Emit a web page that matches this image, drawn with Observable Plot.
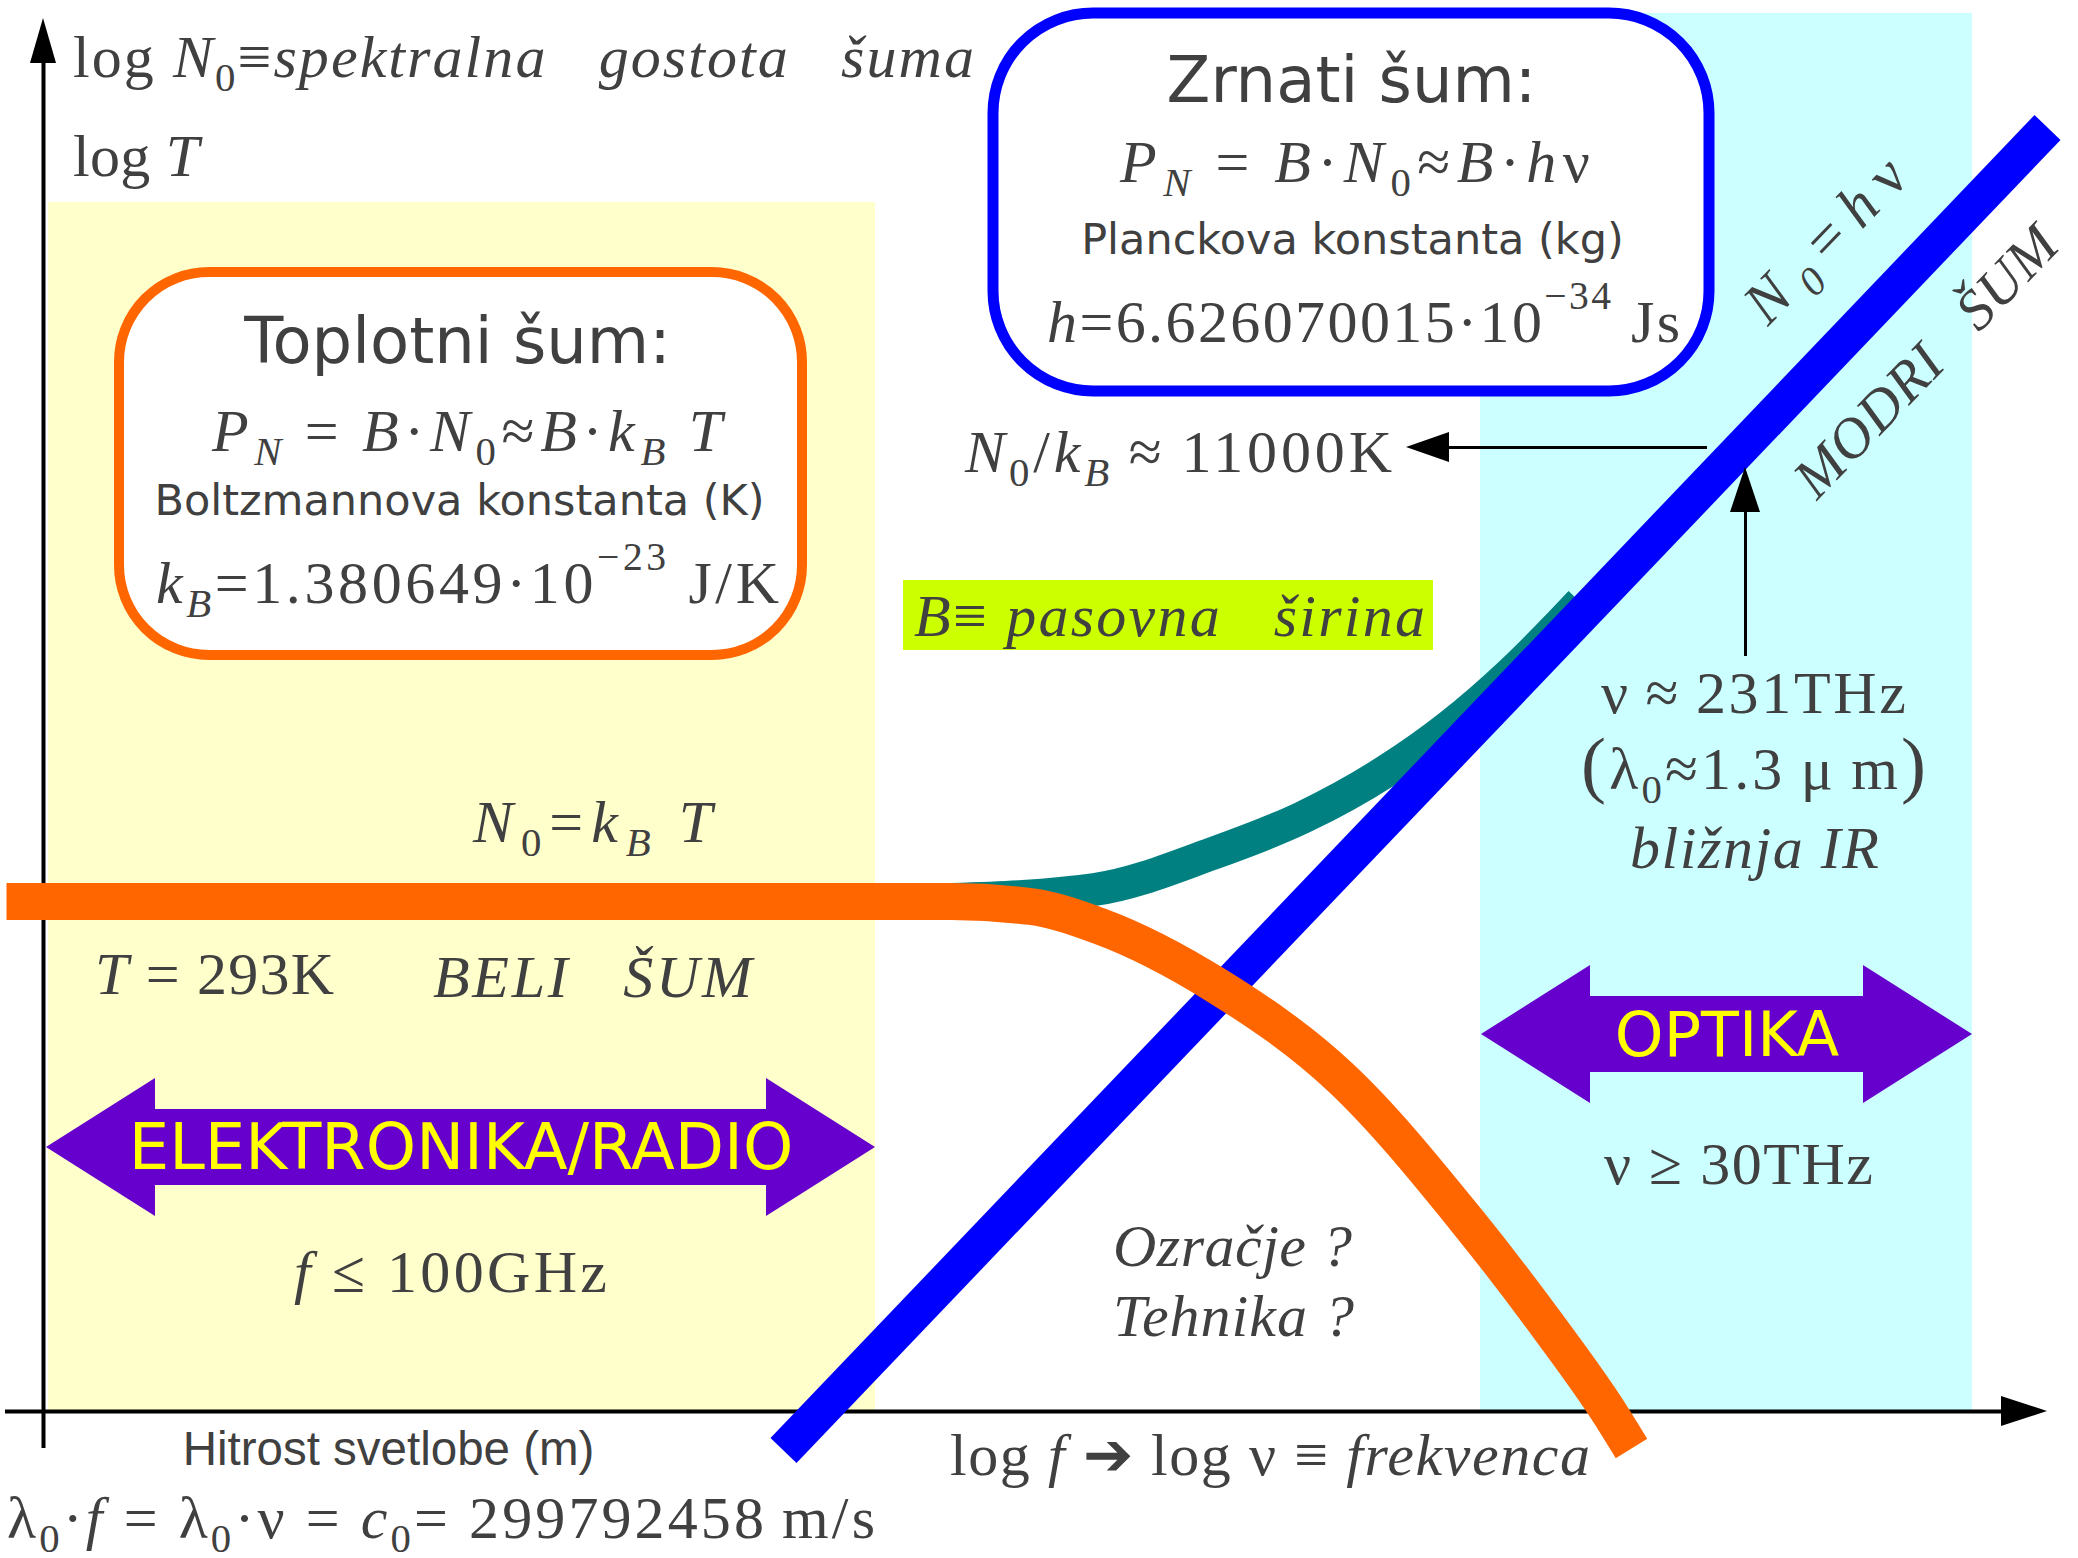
<!DOCTYPE html>
<html>
<head>
<meta charset="utf-8">
<script src="https://cdn.jsdelivr.net/npm/d3@7"></script>
<script src="https://cdn.jsdelivr.net/npm/@observablehq/plot@0.6"></script>
<style>
  html, body { margin: 0; padding: 0; background: #ffffff; overflow: hidden; }
</style>
</head>
<body>
<div id="chart"></div>
<script>
// Schematic noise diagram: x = log ν (frequency), y = log N0 (spectral noise density).
// Both axes are in arbitrary diagram units with the origin at the axes' crossing.
const xDomain = [-0.43, 20.35];
const yDomain = [-1.47, 14.11];

// Shaded frequency ranges (radio/electronics and optics)
const rangeNames = ["elektronika", "optika"];
const rangeFrom = [0.05, 14.37];
const rangeTo = [8.32, 19.29];
const rangeTop = [12.09, 13.98];

// Double arrows naming the ranges
const bandLabels = ["ELEKTRONIKA/RADIO", "OPTIKA"];
const bandFrom = [0.03, 14.38];
const bandTo = [8.32, 19.29];
const bandLevel = [2.64, 3.77];

// Thermal noise N0 = kB·T: white at low frequency, falling off at high frequency
const thermalX = [-0.37, 7.00, 9.08, 9.87, 10.57, 11.73, 12.97, 14.24, 15.07, 15.65, 15.88];
const thermalY = [5.10, 5.10, 5.10, 5.05, 4.85, 4.26, 3.34, 1.90, 0.82, 0.00, -0.37];

// Total noise branch rising from the white level towards the quantum limit
const totalX = [9.08, 10.51, 11.69, 12.59, 13.42, 14.07, 14.67, 15.17, 15.37];
const totalY = [5.12, 5.22, 5.58, 5.94, 6.40, 6.86, 7.38, 7.88, 8.09];

// Quantum (shot) noise N0 = hν — blue noise
const quantumX = [7.40, 20.04];
const quantumY = [-0.39, 12.84];

// Point on the quantum line: ν ≈ 231 THz, N0/kB ≈ 11000 K
const markX = 17.02;
const markY = 9.64;

// Rounded info boxes
const boxNames = ["toplotni", "zrnati"];
const boxX1 = [0.76, 9.50];
const boxX2 = [7.59, 16.66];
const boxY1 = [7.56, 10.20];
const boxY2 = [11.39, 13.98];

// Highlighted bandwidth definition
const bwX = [8.60, 13.90];
const bwY = [7.61, 8.31];

const ink = "#404040";
const serif = "'Liberation Serif', 'Times New Roman', serif";
const sans = "'DejaVu Sans', 'Noto Sans', sans-serif";
const thin = "\u2009";

const ranges = rangeNames.map((name, i) => ({name, from: rangeFrom[i], to: rangeTo[i], top: rangeTop[i]}));
const boxes = boxNames.map((name, i) => ({name, x1: boxX1[i], x2: boxX2[i], y1: boxY1[i], y2: boxY2[i]}));
const thermal = thermalX.map((x, i) => ({x, y: thermalY[i]}));
const total = totalX.map((x, i) => ({x, y: totalY[i]}));
const quantum = quantumX.map((x, i) => ({x, y: quantumY[i]}));

// Polygons for the wide double arrows
const headLen = 1.09, headHalf = 0.69, shaftHalf = 0.38;
const bandShapes = bandLabels.flatMap((label, i) => {
  const a = bandFrom[i], b = bandTo[i], c = bandLevel[i];
  return [
    {label, x: a, lo: c, hi: c},
    {label, x: a + headLen, lo: c - headHalf, hi: c + headHalf},
    {label, x: a + headLen, lo: c - shaftHalf, hi: c + shaftHalf},
    {label, x: b - headLen, lo: c - shaftHalf, hi: c + shaftHalf},
    {label, x: b - headLen, lo: c - headHalf, hi: c + headHalf},
    {label, x: b, lo: c, hi: c}
  ];
});

// Plain (sans-serif) labels
const sansLabels = [
  {text: "Toplotni šum:", x: 4.14, y: 10.49, size: 64, family: sans, fill: ink},
  {text: "Boltzmannova konstanta (K)", x: 4.16, y: 8.97, size: 43, family: sans, fill: ink},
  {text: "Zrnati šum:", x: 13.08, y: 13.10, size: 64, family: sans, fill: ink},
  {text: "Planckova konstanta (kg)", x: 13.09, y: 11.58, size: 43, family: sans, fill: ink},
  {text: "Hitrost svetlobe (m)", x: 3.45, y: -0.53, size: 47.5, family: "'Liberation Sans', Arial, sans-serif", fill: ink},
  ...bandLabels.map((text, i) => ({text, x: (bandFrom[i] + bandTo[i]) / 2, y: bandLevel[i] - 0.215, size: i === 0 ? 64 : 62, family: sans, fill: "#ffff00"}))
];

// Formulas: parts are [text, flags]; i = italic, s = subscript, u = superscript, b = enlarged
const formulas = [
  {x: 0.30, x2: 9.31, y: 13.34, parts: [["log "], ["N", "i"], ["0", "s"], ["≡"], ["spektralna   gostota   šuma", "i"]]},
  {x: 0.30, x2: 1.56, y: 12.35, parts: [["log "], ["T", "i"]]},
  {x: 10.77, x2: 15.47, y: 12.29, parts: [["P", "i"], ["N", "is"], [thin + "=" + thin], ["B", "i"], ["·"], ["N", "i"], ["0", "s"], ["≈"], ["B", "i"], ["·"], ["h", "i"], ["ν"]]},
  {x: 10.04, x2: 16.37, y: 10.69, parts: [["h", "i"], ["=6.626070015·10"], ["−34", "u"], [" Js"]]},
  {x: 1.69, x2: 6.79, y: 9.60, parts: [["P", "i"], ["N", "is"], [thin + "=" + thin], ["B", "i"], ["·"], ["N", "i"], ["0", "s"], ["≈"], ["B", "i"], ["·"], ["k", "i"], ["B", "is"], [thin], ["T", "i"]]},
  {x: 1.13, x2: 7.36, y: 8.08, parts: [["k", "i"], ["B", "is"], ["=1.380649·10"], ["−23", "u"], [" J/K"]]},
  {x: 9.22, x2: 13.49, y: 9.39, parts: [["N", "i"], ["0", "s"], ["/"], ["k", "i"], ["B", "is"], [thin + "≈" + thin + "11000K"]]},
  {x: 8.71, x2: 13.82, y: 7.75, parts: [["B", "i"], ["≡ "], ["pasovna   širina", "i"]]},
  {x: 15.58, x2: 18.63, y: 6.98, parts: [["ν" + thin + "≈" + thin + "231THz"]]},
  {x: 15.38, x2: 18.83, y: 6.22, parts: [["(", "b"], ["λ"], ["0", "s"], ["≈1.3" + thin + "μ" + thin + "m"], [")", "b"]]},
  {x: 15.87, x2: 18.36, y: 5.43, parts: [["bližnja IR", "i"]]},
  {x: 4.30, x2: 6.69, y: 5.69, parts: [["N", "i"], ["0", "s"], ["="], ["k", "i"], ["B", "is"], [thin], ["T", "i"]]},
  {x: 0.52, x2: 2.91, y: 4.17, parts: [["T", "i"], [" = 293K"]]},
  {x: 3.90, x2: 7.09, y: 4.14, parts: [["BELI   ŠUM", "i"]]},
  {x: 2.51, x2: 5.64, y: 1.19, parts: [["f", "i"], [" ≤ 100GHz"]]},
  {x: -0.36, x2: 8.32, y: -1.27, parts: [["λ"], ["0", "s"], ["·"], ["f", "i"], [" = λ"], ["0", "s"], ["·ν = "], ["c", "i"], ["0", "s"], ["= 299792458" + thin + "m/s"]]},
  {x: 9.07, x2: 15.47, y: -0.64, parts: [["log "], ["f", "i"], [" ➔ log ν ≡ "], ["frekvenca", "i"]]},
  {x: 10.70, x2: 13.09, y: 1.45, parts: [["Ozračje ?", "i"]]},
  {x: 10.70, x2: 13.11, y: 0.75, parts: [["Tehnika ?", "i"]]},
  {x: 15.61, x2: 18.30, y: 2.27, parts: [["ν ≥ 30THz"]]},
  {x: 17.25, len: 2.05, y: 10.84, angle: -46, parts: [["N", "i"], ["0", "is"], ["="], ["h", "i"], ["ν"]]},
  {x: 17.74, len: 3.52, y: 9.10, angle: -46, size: 57, parts: [["MODRI   ŠUM", "i"]]}
];

const plot = Plot.plot({
  width: 2078,
  height: 1558,
  margin: 0,
  x: {domain: xDomain, axis: null},
  y: {domain: yDomain, axis: null},
  style: {background: "#ffffff", overflow: "visible"},
  marks: [
    // shaded ranges
    Plot.rect(ranges.filter((d) => d.name === "elektronika"), {x1: "from", x2: "to", y1: 0, y2: "top", fill: "#ffffcc"}),
    Plot.rect(ranges.filter((d) => d.name === "optika"), {x1: "from", x2: "to", y1: 0, y2: "top", fill: "#ccffff"}),
    // info boxes
    Plot.rect(boxes.filter((d) => d.name === "toplotni"), {x1: "x1", x2: "x2", y1: "y1", y2: "y2", fill: "white", stroke: "#ff6600", strokeWidth: 10, rx: 90, ry: 90}),
    Plot.rect(boxes.filter((d) => d.name === "zrnati"), {x1: "x1", x2: "x2", y1: "y1", y2: "y2", fill: "white", stroke: "#0000ff", strokeWidth: 11, rx: 100, ry: 100}),
    Plot.rect([0], {x1: bwX[0], x2: bwX[1], y1: bwY[0], y2: bwY[1], fill: "#ccff00"}),
    // axes with arrowheads
    Plot.ruleY([0], {x1: -0.38, x2: 19.60, stroke: "black", strokeWidth: 4}),
    Plot.ruleX([0], {y1: -0.37, y2: 13.50, stroke: "black", strokeWidth: 4}),
    Plot.areaY([{x: 19.58, lo: -0.15, hi: 0.15}, {x: 20.04, lo: 0, hi: 0}], {x: "x", y1: "lo", y2: "hi", fill: "black"}),
    Plot.areaX([{y: 13.48, lo: -0.13, hi: 0.13}, {y: 13.93, lo: 0, hi: 0}], {y: "y", x1: "lo", x2: "hi", fill: "black"}),
    // range arrows
    Plot.areaY(bandShapes, {x: "x", y1: "lo", y2: "hi", z: "label", fill: "#6600cc"}),
    // noise curves
    Plot.line(total, {x: "x", y: "y", stroke: "#008080", strokeWidth: 33, curve: "monotone-x", strokeLinecap: "butt"}),
    Plot.line(quantum, {x: "x", y: "y", stroke: "#0000ff", strokeWidth: 36, strokeLinecap: "butt"}),
    Plot.line(thermal, {x: "x", y: "y", stroke: "#ff6600", strokeWidth: 37, curve: "monotone-x", strokeLinecap: "butt", strokeLinejoin: "round"}),
    // crossover markers
    Plot.ruleY([markY], {x1: 14.06, x2: markX - 0.38, stroke: "black", strokeWidth: 3}),
    Plot.areaY([{x: 13.63, lo: markY, hi: markY}, {x: 14.06, lo: markY - 0.15, hi: markY + 0.15}], {x: "x", y1: "lo", y2: "hi", fill: "black"}),
    Plot.ruleX([markX], {y1: 7.55, y2: 8.99, stroke: "black", strokeWidth: 3}),
    Plot.areaX([{y: markY - 0.20, lo: markX, hi: markX}, {y: markY - 0.65, lo: markX - 0.15, hi: markX + 0.15}], {y: "y", x1: "lo", x2: "hi", fill: "black"}),
    // plain labels
    ...sansLabels.map((d) => Plot.text([d], {
      x: "x", y: "y", text: "text", fontSize: d.size, fontFamily: d.family, fill: d.fill,
      textAnchor: "middle", lineAnchor: "bottom"
    }))
  ]
});

// Formulas with subscripts and superscripts, positioned through the plot's scales
const sx = plot.scale("x"), sy = plot.scale("y");
const layer = d3.select(plot).append("g")
  .attr("fill", ink)
  .attr("text-anchor", "start")
  .style("font-family", serif);

function drawFormula(f) {
  const size = f.size ?? 60;
  const x0 = sx.apply(f.x), y0 = sy.apply(f.y);
  const text = layer.append("text")
    .attr("x", x0)
    .attr("y", y0)
    .attr("text-anchor", "start")
    .attr("xml:space", "preserve")
    .style("font-family", serif)
    .style("font-size", size + "px")
    .style("white-space", "pre");
  let shift = 0;
  for (const [str, flags = ""] of f.parts) {
    let target = 0, fs = size;
    if (flags.includes("s")) { target = 0.23 * size; fs = 0.68 * size; }
    else if (flags.includes("u")) { target = -0.55 * size; fs = 0.66 * size; }
    else if (flags.includes("b")) { fs = 1.25 * size; }
    const t = text.append("tspan").style("font-size", fs + "px").text(str);
    if (flags.includes("i")) t.style("font-style", "italic");
    if (target !== shift) { t.attr("dy", target - shift); shift = target; }
  }
  const length = f.len != null ? sx.apply(f.x + f.len) - x0 : sx.apply(f.x2) - x0;
  text.attr("textLength", length).attr("lengthAdjust", "spacing");
  if (f.angle) text.attr("transform", `rotate(${f.angle},${x0},${y0})`);
}
formulas.forEach(drawFormula);

document.getElementById("chart").append(plot);
</script>
</body>
</html>
